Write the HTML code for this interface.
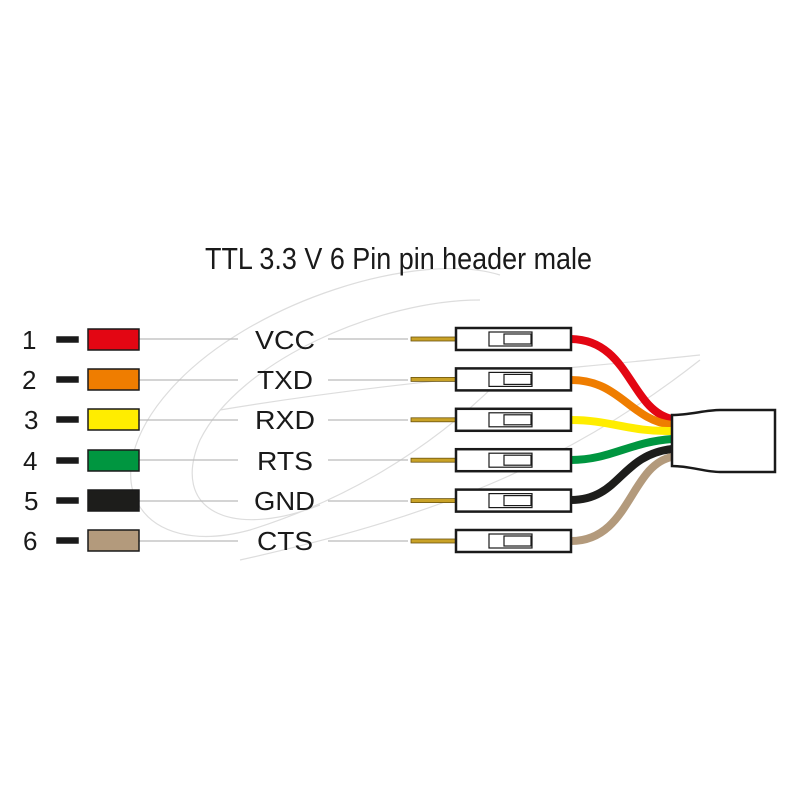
<!DOCTYPE html>
<html><head><meta charset="utf-8"><style>html,body{margin:0;padding:0;background:#fff}svg{display:block}</style></head>
<body>
<svg width="800" height="800" viewBox="0 0 800 800" xmlns="http://www.w3.org/2000/svg" font-family="Liberation Sans, sans-serif">
<rect width="800" height="800" fill="#fff"/>
<!-- faint watermark -->
<g fill="none" stroke="#ddd" stroke-width="1.2">
<path d="M500 275 C420 250 250 300 170 390 C90 480 140 560 250 530 C330 505 420 460 500 380"/>
<path d="M480 300 C380 300 240 360 200 440 C170 510 230 540 320 505"/>
<path d="M220 410 C400 380 560 370 700 355"/>
<path d="M240 560 C420 520 560 470 700 360"/>
</g>
<text x="205" y="269" font-size="31" textLength="387" lengthAdjust="spacingAndGlyphs" fill="#1a1a1a">TTL 3.3 V 6 Pin pin header male</text>
<g id="rows">
</g>
<script>
</script>
<g font-size="26" fill="#1a1a1a">
<text x="22" y="349">1</text><text x="22" y="389">2</text><text x="24" y="429">3</text><text x="23" y="470">4</text><text x="24" y="510">5</text><text x="23" y="550">6</text>
<text x="255" y="349" textLength="60" lengthAdjust="spacingAndGlyphs">VCC</text>
<text x="257" y="389" textLength="56" lengthAdjust="spacingAndGlyphs">TXD</text>
<text x="255" y="429" textLength="60" lengthAdjust="spacingAndGlyphs">RXD</text>
<text x="257" y="470" textLength="56" lengthAdjust="spacingAndGlyphs">RTS</text>
<text x="254" y="510" textLength="61" lengthAdjust="spacingAndGlyphs">GND</text>
<text x="257" y="550" textLength="56" lengthAdjust="spacingAndGlyphs">CTS</text>
</g>
<!-- gray guide lines -->
<g stroke="#bbb" stroke-width="1.2">
<line x1="139" y1="339" x2="238" y2="339"/><line x1="328" y1="339" x2="408" y2="339"/>
<line x1="139" y1="380" x2="238" y2="380"/><line x1="328" y1="380" x2="408" y2="380"/>
<line x1="139" y1="420" x2="238" y2="420"/><line x1="328" y1="420" x2="408" y2="420"/>
<line x1="139" y1="460" x2="238" y2="460"/><line x1="328" y1="460" x2="408" y2="460"/>
<line x1="139" y1="501" x2="238" y2="501"/><line x1="328" y1="501" x2="408" y2="501"/>
<line x1="139" y1="541" x2="238" y2="541"/><line x1="328" y1="541" x2="408" y2="541"/>
</g>
<!-- dashes and color boxes -->
<g stroke="#1a1a1a" stroke-width="1.5">
<rect x="57" y="337" width="21" height="5" fill="#1a1a1a"/><rect x="88" y="329" width="51" height="21" fill="#e30613"/>
<rect x="57" y="377" width="21" height="5" fill="#1a1a1a"/><rect x="88" y="369" width="51" height="21" fill="#ef7d00"/>
<rect x="57" y="417" width="21" height="5" fill="#1a1a1a"/><rect x="88" y="409" width="51" height="21" fill="#ffed00"/>
<rect x="57" y="458" width="21" height="5" fill="#1a1a1a"/><rect x="88" y="450" width="51" height="21" fill="#009640"/>
<rect x="57" y="498" width="21" height="5" fill="#1a1a1a"/><rect x="88" y="490" width="51" height="21" fill="#1d1d1b"/>
<rect x="57" y="538" width="21" height="5" fill="#1a1a1a"/><rect x="88" y="530" width="51" height="21" fill="#b39a7c"/>
</g>
<!-- wires -->
<g fill="none" stroke-width="8" stroke-linecap="butt">
<path d="M571 339 C630 340 630 410 672 419" stroke="#e30613"/>
<path d="M571 380 C620 380 630 420 672 425" stroke="#ef7d00"/>
<path d="M571 420 C610 420 630 432 672 431" stroke="#ffed00"/>
<path d="M571 460 C610 460 630 442 672 439" stroke="#009640"/>
<path d="M571 500 C620 500 620 455 672 449" stroke="#1d1d1b"/>
<path d="M571 541 C630 541 630 465 672 457" stroke="#b39a7c"/>
</g>
<!-- cable -->
<path d="M672 415 C690 415 705 410 720 410 L775 410 L775 472 L720 472 C705 472 690 466 672 466 Z" fill="#fff" stroke="#1a1a1a" stroke-width="2.5"/>
<!-- pins and housings -->
<g id="p">
<g transform="translate(0,0)">
</g>
</g>
<g stroke="#1a1a1a">
<g><rect x="411" y="337" width="45" height="4" fill="#c9a227" stroke="#6b5410" stroke-width="0.8"/><rect x="456" y="328" width="115" height="22" fill="#fff" stroke-width="2.5"/><rect x="489" y="332" width="43" height="14" fill="#fff" stroke-width="1.2"/><rect x="504" y="334" width="27" height="10" fill="#fff" stroke-width="1.2"/></g>
<g transform="translate(0,40.4)"><rect x="411" y="337" width="45" height="4" fill="#c9a227" stroke="#6b5410" stroke-width="0.8"/><rect x="456" y="328" width="115" height="22" fill="#fff" stroke-width="2.5"/><rect x="489" y="332" width="43" height="14" fill="#fff" stroke-width="1.2"/><rect x="504" y="334" width="27" height="10" fill="#fff" stroke-width="1.2"/></g>
<g transform="translate(0,80.8)"><rect x="411" y="337" width="45" height="4" fill="#c9a227" stroke="#6b5410" stroke-width="0.8"/><rect x="456" y="328" width="115" height="22" fill="#fff" stroke-width="2.5"/><rect x="489" y="332" width="43" height="14" fill="#fff" stroke-width="1.2"/><rect x="504" y="334" width="27" height="10" fill="#fff" stroke-width="1.2"/></g>
<g transform="translate(0,121.2)"><rect x="411" y="337" width="45" height="4" fill="#c9a227" stroke="#6b5410" stroke-width="0.8"/><rect x="456" y="328" width="115" height="22" fill="#fff" stroke-width="2.5"/><rect x="489" y="332" width="43" height="14" fill="#fff" stroke-width="1.2"/><rect x="504" y="334" width="27" height="10" fill="#fff" stroke-width="1.2"/></g>
<g transform="translate(0,161.6)"><rect x="411" y="337" width="45" height="4" fill="#c9a227" stroke="#6b5410" stroke-width="0.8"/><rect x="456" y="328" width="115" height="22" fill="#fff" stroke-width="2.5"/><rect x="489" y="332" width="43" height="14" fill="#fff" stroke-width="1.2"/><rect x="504" y="334" width="27" height="10" fill="#fff" stroke-width="1.2"/></g>
<g transform="translate(0,202)"><rect x="411" y="337" width="45" height="4" fill="#c9a227" stroke="#6b5410" stroke-width="0.8"/><rect x="456" y="328" width="115" height="22" fill="#fff" stroke-width="2.5"/><rect x="489" y="332" width="43" height="14" fill="#fff" stroke-width="1.2"/><rect x="504" y="334" width="27" height="10" fill="#fff" stroke-width="1.2"/></g>
</g>
</svg>
</body></html>
